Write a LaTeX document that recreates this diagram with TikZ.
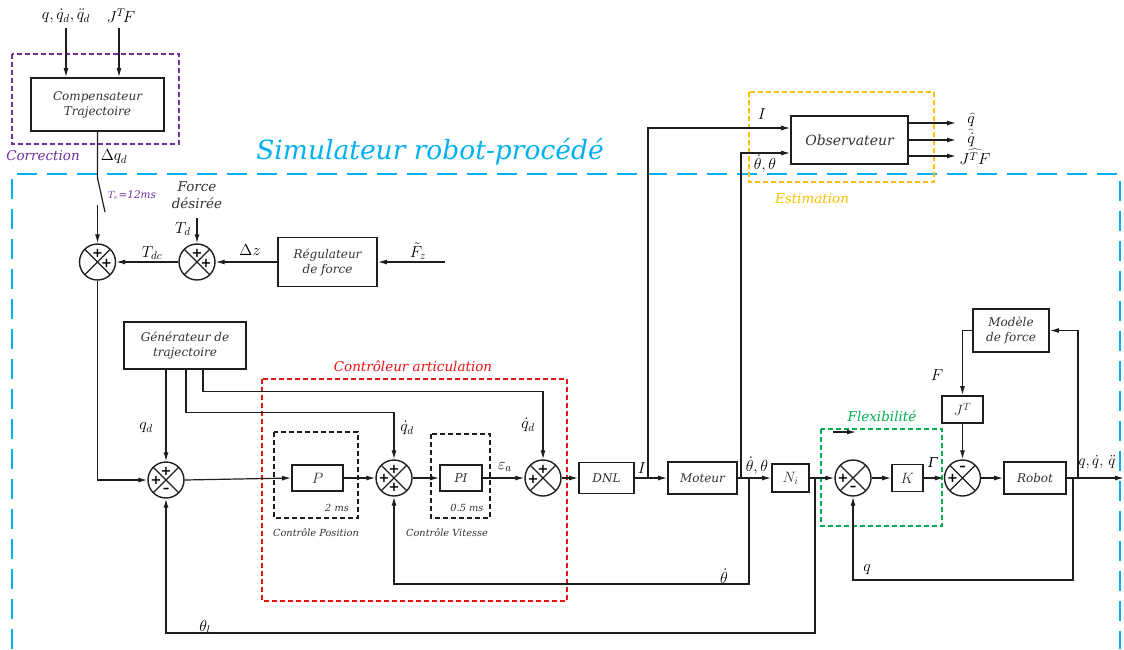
\RequirePackage{fix-cm}
\documentclass[tikz,border=0pt]{standalone}
\usepackage{fontspec}
\setmainfont{DejaVu Serif}
\usetikzlibrary{arrows.meta,calc}
\definecolor{cblue}{RGB}{0,176,240}
\definecolor{cpurple}{RGB}{112,48,160}
\definecolor{cred}{RGB}{235,20,20}
\definecolor{cgreen}{RGB}{0,176,80}
\definecolor{corange}{RGB}{255,192,0}
\definecolor{cline}{RGB}{30,30,30}
\newcommand{\sumsign}[3]{\node[sgn] at ($(#1)+(#2)$) {#3};}
\tikzset{
  blk/.style={draw=cline, line width=1.8pt, fill=white, inner sep=0pt, align=center,
    font=\itshape\fontsize{12}{15}\selectfont, text=black!80},
  mblk/.style={blk, font=\fontsize{15}{17}\selectfont},
  sumnode/.style={circle, draw=cline, line width=1.4pt, minimum size=36pt, inner sep=0pt,
    path picture={\draw[line width=1.2pt, cline]
      (path picture bounding box.north west) -- (path picture bounding box.south east)
      (path picture bounding box.north east) -- (path picture bounding box.south west);}},
  wire/.style={draw=cline, line width=1.2pt},
  arr/.style={wire, -{Latex[length=9pt,width=5pt]}},
  sgn/.style={font=\fontsize{13}{13}\selectfont\bfseries, inner sep=0pt},
  lbl/.style={inner sep=0pt, font=\fontsize{16}{18}\selectfont},
  ilbl/.style={inner sep=0pt, font=\itshape\fontsize{13.5}{16}\selectfont, text=black!80, align=center},
  slbl/.style={inner sep=0pt, font=\itshape\fontsize{9.8}{11}\selectfont, text=black!80},
  grp/.style={dashed, line width=1.2pt, dash pattern=on 5pt off 3pt},
}
\begin{document}
\begin{tikzpicture}[x=1pt,y=-1pt]
\useasboundingbox (0,0) rectangle (1124,649);

% ---------- group frames ----------
\draw[cblue, line width=2.6pt, dash pattern=on 20pt off 10pt]
  (12,649) -- (12,174) -- (1120,174) -- (1120,649);
\draw[grp, cpurple] (12,54) rectangle (179,144);
\draw[grp, corange] (749,92) rectangle (934,182);
\draw[grp, cred] (262,379) rectangle (567,601);
\draw[grp, cgreen] (821,429) rectangle (942,526);
\draw[grp, cline] (274,432) rectangle (358,518);
\draw[grp, cline] (431,434) rectangle (490,518);

% ---------- blocks ----------
\node[blk, minimum width=133pt, minimum height=53pt] (comp) at (97.5,104.5) {Compensateur\\Trajectoire};
\node[blk, minimum width=99pt, minimum height=49pt] (reg) at (327.5,262) {Régulateur\\de force};
\node[blk, minimum width=122pt, minimum height=47pt] (gen) at (185,345.5) {Générateur de\\trajectoire};
\node[mblk, minimum width=51pt, minimum height=26pt] (P) at (317.5,478) {$P$};
\node[blk, minimum width=42pt, minimum height=26pt] (PI) at (461,478) {PI};
\node[blk, minimum width=55pt, minimum height=31pt] (DNL) at (606.5,478) {DNL};
\node[blk, minimum width=69pt, minimum height=32pt] (mot) at (702.5,478) {Moteur};
\node[mblk, minimum width=37pt, minimum height=28pt] (Ni) at (790.5,478) {$N_i$};
\node[mblk, minimum width=31pt, minimum height=27pt] (K) at (907.5,478) {$K$};
\node[mblk, minimum width=41pt, minimum height=27pt] (JT) at (962.5,409.5) {$J^T$};
\node[blk, minimum width=62pt, minimum height=32pt] (robot) at (1035,478) {Robot};
\node[blk, minimum width=76pt, minimum height=43pt] (model) at (1011,330.5) {Modèle\\de force};
\node[blk, minimum width=117pt, minimum height=48pt, font=\itshape\fontsize{14}{16}\selectfont] (obs) at (849.5,140) {Observateur};

% ---------- summers ----------
\node[sumnode] (s1) at (97.5,262) {};
\node[sumnode] (s2) at (197,262) {};
\node[sumnode] (s3) at (166,480) {};
\node[sumnode] (s4) at (394,478) {};
\node[sumnode] (s5) at (543,478) {};
\node[sumnode] (fs) at (853,478) {};
\node[sumnode] (rs) at (962.5,478) {};
\sumsign{s1}{0,-9}{+}\sumsign{s1}{9,1}{+}
\sumsign{s2}{0,-9}{+}\sumsign{s2}{9,1}{+}
\sumsign{s3}{0,-9}{+}\sumsign{s3}{-10,0}{+}\sumsign{s3}{0,10}{--}
\sumsign{s4}{0,-9}{+}\sumsign{s4}{-10,0}{+}\sumsign{s4}{0,9}{+}
\sumsign{s5}{0,-9}{+}\sumsign{s5}{-10,1}{+}
\sumsign{fs}{-10,0}{+}\sumsign{fs}{0,10}{--}
\sumsign{rs}{0,-10}{--}\sumsign{rs}{-10,0}{+}

% ---------- coordinates ----------
\coordinate (in1) at (66,28);
\coordinate (in2) at (119,28);
\coordinate (sw1) at (97.5,178);
\coordinate (sw2) at (105,212);
\coordinate (sw3) at (97.5,205);
\coordinate (td) at (197,218);
\coordinate (fz) at (445,262);
\coordinate (Ibr) at (648,478);
\coordinate (tb) at (741,478);
\coordinate (tf) at (749,478);
\coordinate (lb) at (815,478);
\coordinate (qb) at (1073,478);
\coordinate (mb) at (1078,478);
\coordinate (out) at (1124,478);
\coordinate (o1) at (956,123);
\coordinate (o2) at (956,140);
\coordinate (o3) at (956,156);
\coordinate (st1) at (833,432);
\coordinate (st2) at (856,432);

% ---------- connectors ----------
\draw[arr] (in1) -- (in1 |- comp.north);
\draw[arr] (in2) -- (in2 |- comp.north);
\draw[wire] (comp.south) -- (sw1) -- (sw2);
\draw[arr] (sw3) -- (s1.north);
\draw[arr] (td) -- (s2.north);
\draw[arr] (s2.west) -- (s1.east);
\draw[arr] (reg.west) -- (s2.east);
\draw[arr] (fz) -- (reg.east);
\draw[arr] (s1.south) |- (s3.west);
\draw[arr] (s3 |- gen.south) -- (s3.north);
\draw[arr] ($(gen.south)+(1,0)$) |- ($(s4.north)+(0,-47)$) -- (s4.north);
\draw[arr] ($(gen.south)+(18,0)$) |- ($(s5.north)+(0,-68)$) -- (s5.north);
\draw[arr] (s3.east) -- (P.west);
\draw[arr] (P.east) -- (s4.west);
\draw[arr] (s4.east) -- (PI.west);
\draw[arr] (PI.east) -- (s5.west);
\draw[arr] (s5.east) -- (DNL.west);
\draw[arr] (DNL.east) -- (mot.west);
\draw[arr] (mot.east) -- (Ni.west);
\draw[arr] (Ni.east) -- (fs.west);
\draw[arr] (fs.east) -- (K.west);
\draw[arr] (K.east) -- (rs.west);
\draw[arr] (rs.east) -- (robot.west);
\draw[arr] (JT.south) -- (rs.north);
\draw[arr] (robot.east) -- (out);
\draw[arr] (mb) |- (model.east);
\draw[arr] (model.west) -| (JT.north);
\draw[arr] (qb) -- ($(qb)+(0,102)$) -| (fs.south);
\draw[arr] (Ibr) |- ($(obs.west)+(0,-12)$);
\draw[arr] (tb) |- ($(obs.west)+(0,13)$);
\draw[arr] (tf) -- ($(tf)+(0,106)$) -| (s4.south);
\draw[arr] (lb) -- ($(lb)+(0,155)$) -| (s3.south);
\draw[arr] (obs.east |- o1) -- (o1);
\draw[arr] (obs.east |- o2) -- (o2);
\draw[arr] (obs.east |- o3) -- (o3);
\draw[arr] (st1) -- (st2);

% ---------- labels ----------
\node[lbl] (l1) at (66,16) {$q,\dot q_d,\ddot q_d$};
\node[lbl] (l2) at (121,16) {$J^T\!F$};
\node[ilbl, text=cpurple] (l3) at (43,156) {Correction};
\node[lbl] (l4) at (114,157) {$\Delta q_d$};
\node[inner sep=0pt, text=cpurple, font=\itshape\fontsize{10.5}{12}\selectfont] (l5) at (132,195) {$T_e$=12ms};
\node[ilbl] (l6) at (197,195) {Force\\[1pt]désirée};
\node[lbl] (l7) at (183,229) {$T_d$};
\node[lbl] (l8) at (152,253) {$T_{dc}$};
\node[lbl] (l9) at (250,250) {$\Delta z$};
\node[lbl] (l10) at (418,251) {$\tilde F_z$};
\node[inner sep=0pt, text=cblue, font=\itshape\fontsize{26.5}{30}\selectfont] (title) at (430,152) {Simulateur robot-procédé};
\node[lbl] (l11) at (146,428) {$q_d$};
\node[lbl] (l12) at (407,428) {$\dot q_d$};
\node[lbl] (l13) at (528,425) {$\dot q_d$};
\node[ilbl, text=cred] (l14) at (413,366) {Contrôleur articulation};
\node[slbl] (l15) at (337,508) {2 ms};
\node[slbl] (l16) at (467,508) {0.5 ms};
\node[slbl] (l17) at (316,533) {Contrôle Position};
\node[slbl] (l18) at (447,533) {Contrôle Vitesse};
\node[lbl] (l19) at (505,467) {$\varepsilon_a$};
\node[lbl] (l20) at (642,468) {$I$};
\node[lbl] (l21) at (762,114) {$I$};
\node[lbl] (l22) at (765,164) {$\dot\theta,\theta$};
\node[lbl] (l23) at (757,466) {$\dot\theta,\theta$};
\node[lbl] (l24) at (724,576) {$\dot\theta$};
\node[lbl] (l25) at (205,627) {$\theta_l$};
\node[ilbl, text=corange] (l26) at (812,199) {Estimation};
\node[lbl] (l27) at (971,120) {$\widehat{q}$};
\node[lbl] (l28) at (971,138) {$\widehat{\dot q}$};
\node[lbl] (l29) at (975,157) {$\widehat{J^T F}$};
\node[ilbl, text=cgreen] (l30) at (882,416) {Flexibilité};
\node[ilbl, text=black] (l31) at (933,463) {Γ};
\node[lbl] (l32) at (937,375) {$F$};
\node[lbl, font=\fontsize{15}{17}\selectfont] (l33) at (1097,462) {$q,\dot q,\,\ddot q$};
\node[lbl] (l34) at (867,570) {$q$};
\end{tikzpicture}
\end{document}
